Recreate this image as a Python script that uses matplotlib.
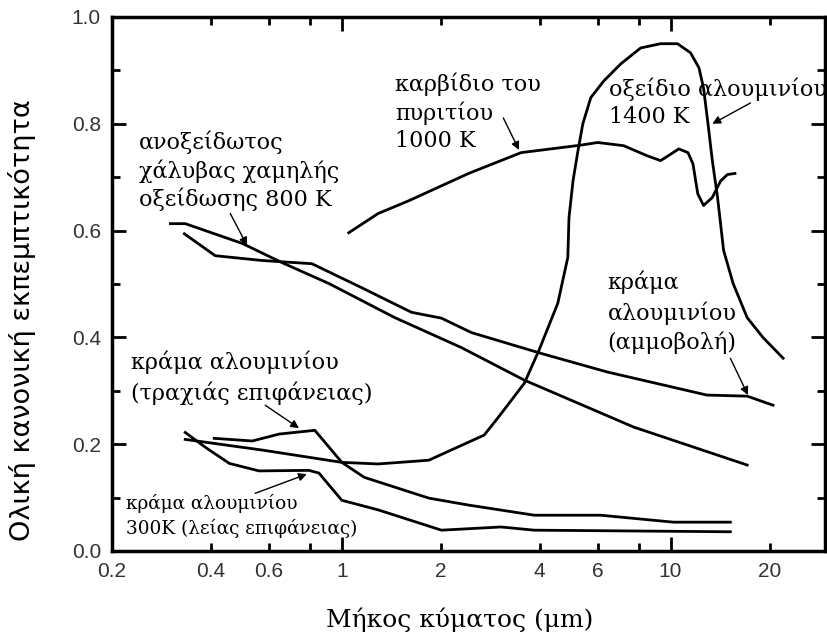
import matplotlib
matplotlib.use("Agg")
import matplotlib.pyplot as plt
from matplotlib.ticker import FixedLocator, FixedFormatter

# wavelength (um) / total normal emissivity
steel_x = [0.301, 0.334, 0.498, 0.658, 0.913, 1.45, 2.31, 3.59, 7.73, 17.1]
steel_y = [0.613, 0.613, 0.576, 0.540, 0.501, 0.437, 0.381, 0.320, 0.232, 0.161]

sand_x = [0.332, 0.412, 0.573, 0.811, 1.15, 1.63, 2.01, 2.48, 4.04, 6.44, 12.9, 17.1, 20.5]
sand_y = [0.594, 0.553, 0.544, 0.538, 0.493, 0.447, 0.436, 0.409, 0.370, 0.335, 0.292, 0.290, 0.273]

sic_x = [1.05, 1.29, 1.60, 2.43, 3.51, 5.33, 6.0, 7.2, 8.5, 9.33, 10.6, 11.3, 11.7, 12.1,
         12.6, 13.4, 14.2, 14.9, 15.7]
sic_y = [0.596, 0.632, 0.656, 0.707, 0.746, 0.760, 0.765, 0.759, 0.740, 0.731, 0.753, 0.746,
         0.725, 0.669, 0.647, 0.662, 0.693, 0.705, 0.707]

oxide_x = [0.334, 0.573, 1.0, 1.29, 1.84, 2.15, 2.71, 2.99, 3.59, 3.98, 4.54, 4.87, 4.91, 5.05,
           5.23, 5.41, 5.72, 6.26, 7.05, 8.11, 9.33, 10.5, 11.5, 12.2, 12.6, 13.0, 13.4, 13.9,
           14.5, 15.5, 17.1, 19.1, 22.0]
oxide_y = [0.209, 0.189, 0.166, 0.163, 0.170, 0.189, 0.217, 0.250, 0.314, 0.376, 0.464, 0.550,
           0.624, 0.693, 0.750, 0.800, 0.849, 0.880, 0.912, 0.942, 0.950, 0.950, 0.933, 0.905,
           0.867, 0.800, 0.731, 0.662, 0.563, 0.501, 0.437, 0.400, 0.361]

rough_x = [0.409, 0.534, 0.645, 0.828, 1.0, 1.17, 1.84, 2.43, 3.85, 6.13, 10.2, 15.2]
rough_y = [0.211, 0.206, 0.219, 0.226, 0.166, 0.138, 0.099, 0.086, 0.067, 0.067, 0.054, 0.054]

polish_x = [0.334, 0.385, 0.455, 0.560, 0.794, 0.852, 1.0, 1.29, 2.01, 3.05, 3.85, 15.2]
polish_y = [0.222, 0.194, 0.164, 0.150, 0.151, 0.146, 0.095, 0.077, 0.039, 0.045, 0.039, 0.036]

xtick_vals = [0.2, 0.4, 0.6, 2, 4, 6, 20]
xtick_labels = ["0.2", "0.4", "0.6", "2", "4", "6", "20"]
xmajor_vals = [1, 10]
xmajor_labels = ["1", "10"]
xminor_extra = [0.8, 8]

serif = ["DejaVu Serif"]
fig = plt.figure(figsize=(8.27, 6.41), dpi=100)
ax = fig.add_axes([112 / 827, 1 - 551 / 641, (825 - 112) / 827, (551 - 17) / 641])

for xs, ys in [(steel_x, steel_y), (sand_x, sand_y), (sic_x, sic_y),
               (oxide_x, oxide_y), (rough_x, rough_y), (polish_x, polish_y)]:
    ax.plot(xs, ys, color="black", lw=2.0, solid_joinstyle="round")

ax.set_xscale("log")
ax.set_xlim(0.2, 29.5)
ax.set_ylim(0, 1.0)

ax.xaxis.set_major_locator(FixedLocator(xmajor_vals))
ax.xaxis.set_major_formatter(FixedFormatter(xmajor_labels))
minor_pos = sorted(xtick_vals + xminor_extra)
minor_lab = [xtick_labels[xtick_vals.index(v)] if v in xtick_vals else "" for v in minor_pos]
ax.xaxis.set_minor_locator(FixedLocator(minor_pos))
ax.xaxis.set_minor_formatter(FixedFormatter(minor_lab))

ax.set_yticks([0, 0.2, 0.4, 0.6, 0.8, 1.0])
ax.set_yticklabels(["0.0", "0.2", "0.4", "0.6", "0.8", "1.0"])
ax.set_yticks([0.1, 0.3, 0.5, 0.7, 0.9], minor=True)

ax.tick_params(which="both", direction="in", top=True, right=True, width=2.0,
               labelsize=15, labelcolor="#333333", pad=8)
ax.tick_params(which="major", length=10)
ax.tick_params(which="minor", length=6)
for lab in ax.get_xticklabels(which="both") + ax.get_yticklabels():
    lab.set_fontfamily("Liberation Sans")
for s in ax.spines.values():
    s.set_linewidth(2.5)

ax.set_xlabel("Μήκος κύματος (μm)", fontsize=18, family=serif)
ax.xaxis.set_label_coords(0.487, -0.105)
ax.set_ylabel("Ολική κανονική εκπεμπτικότητα", fontsize=19.5, family="DejaVu Sans")
ax.yaxis.set_label_coords(-0.106, 0.433)

fs = 16
ax.text(0.241, 0.712, "ανοξείδωτος\nχάλυβας χαμηλής\nοξείδωσης 800 K", fontsize=fs,
        family=serif, va="center", ha="left", linespacing=1.3)
ax.text(1.45, 0.821, "καρβίδιο του\nπυριτίου\n1000 K", fontsize=fs,
        family=serif, va="center", ha="left", linespacing=1.3)
ax.text(6.49, 0.839, "οξείδιο αλουμινίου\n1400 K", fontsize=fs,
        family=serif, va="center", ha="left", linespacing=1.3)
ax.text(6.44, 0.447, "κράμα\nαλουμινίου\n(αμμοβολή)", fontsize=fs,
        family=serif, va="center", ha="left", linespacing=1.4)
ax.text(0.228, 0.325, "κράμα αλουμινίου\n(τραχιάς επιφάνειας)", fontsize=fs,
        family=serif, va="center", ha="left", linespacing=1.4)
ax.text(0.220, 0.065, "κράμα αλουμινίου\n300K (λείας επιφάνειας)", fontsize=13.3,
        family=serif, va="center", ha="left", linespacing=1.4)

arrows = [((0.458, 0.632), (0.515, 0.572)),
          ((3.10, 0.811), (3.46, 0.751)),
          ((17.5, 0.839), (13.4, 0.800)),
          ((15.2, 0.361), (17.2, 0.292)),
          ((0.585, 0.273), (0.741, 0.230)),
          ((0.545, 0.108), (0.783, 0.144))]
for tail, head in arrows:
    ax.annotate("", xy=head, xytext=tail,
                arrowprops=dict(arrowstyle="-|>", color="black", lw=1.0,
                                mutation_scale=12, shrinkA=0, shrinkB=0))

fig.savefig("out.png", dpi=100)
